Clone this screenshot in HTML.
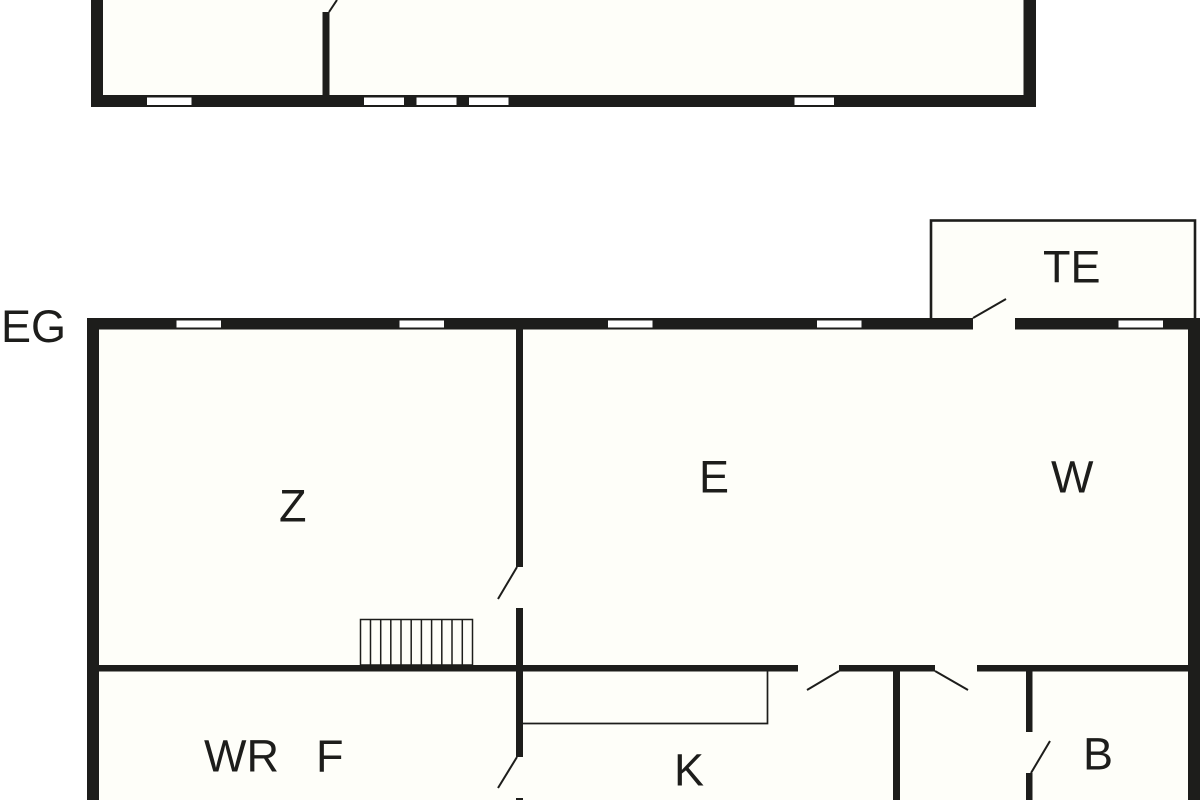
<!DOCTYPE html>
<html lang="de">
<head>
<meta charset="utf-8">
<title>Floor plan</title>
<style>
html,body{margin:0;padding:0;background:#fff;width:1200px;height:800px;overflow:hidden}
svg{display:block}
text{font-family:"Liberation Sans",sans-serif;font-size:45px;fill:#1d1d1b}
</style>
</head>
<body>
<svg width="1200" height="800" viewBox="0 0 1200 800" xmlns="http://www.w3.org/2000/svg">
<rect width="1200" height="800" fill="#fff"/>

<!-- Upper floor -->
<rect x="103" y="0" width="921" height="95" fill="#fefef9"/>
<g fill="#1d1d1b">
<rect x="91" y="0" width="12" height="107"/>
<rect x="1023.5" y="0" width="12.5" height="107"/>
<rect x="91" y="95" width="945" height="12"/>
<rect x="322.5" y="12" width="7" height="85"/>
</g>
<line x1="329" y1="12" x2="337" y2="0" stroke="#1d1d1b" stroke-width="2"/>
<g fill="#fff">
<rect x="147" y="97.5" width="44.5" height="7.5"/>
<rect x="364" y="97.5" width="40" height="7.5"/>
<rect x="416.5" y="97.5" width="40" height="7.5"/>
<rect x="469" y="97.5" width="39.5" height="7.5"/>
<rect x="794.5" y="97.5" width="39.5" height="7.5"/>
</g>

<!-- Terrace -->
<rect x="931" y="220.5" width="264" height="100" fill="#fefef9" stroke="#1d1d1b" stroke-width="2.6"/>

<!-- Ground floor fill -->
<rect x="99" y="329" width="1090" height="471" fill="#fefef9"/>

<!-- Walls -->
<g fill="#1d1d1b">
<rect x="87" y="318" width="1113" height="11.5"/>
<rect x="87" y="318" width="12" height="482"/>
<rect x="1188" y="329" width="12" height="471"/>
<rect x="516" y="329" width="7" height="238"/>
<rect x="516" y="608" width="7" height="149"/>
<rect x="516" y="798" width="7" height="2"/>
<rect x="99" y="665" width="699" height="6.5"/>
<rect x="839" y="665" width="96" height="6.5"/>
<rect x="977" y="665" width="211" height="6.5"/>
<rect x="893" y="671" width="7" height="129"/>
<rect x="1026" y="671" width="6.5" height="61"/>
<rect x="1026" y="773" width="6.5" height="27"/>
</g>

<!-- Door gap and windows in top wall -->
<rect x="973" y="318" width="42" height="11.5" fill="#fefef9"/>
<g fill="#fff">
<rect x="176.5" y="320.5" width="44.5" height="7"/>
<rect x="399.5" y="320.5" width="44.5" height="7"/>
<rect x="608" y="320.5" width="44.5" height="7"/>
<rect x="817" y="320.5" width="44.5" height="7"/>
<rect x="1118.5" y="320.5" width="44.5" height="7"/>
</g>

<!-- Door leaves -->
<g stroke="#1d1d1b" stroke-width="2" fill="none">
<line x1="973" y1="318" x2="1006" y2="299"/>
<line x1="517" y1="567" x2="498" y2="599"/>
<line x1="517" y1="757" x2="498" y2="788"/>
<line x1="839" y1="671" x2="807" y2="690"/>
<line x1="935" y1="671" x2="968" y2="690"/>
<line x1="1031" y1="773" x2="1050" y2="741"/>
</g>

<!-- Stairs -->
<g stroke="#1d1d1b" stroke-width="1.5" fill="none">
<rect x="360.5" y="619.5" width="112" height="45.5"/>
<line x1="370.5" y1="619.5" x2="370.5" y2="665"/>
<line x1="380.7" y1="619.5" x2="380.7" y2="665"/>
<line x1="390.8" y1="619.5" x2="390.8" y2="665"/>
<line x1="401" y1="619.5" x2="401" y2="665"/>
<line x1="411.2" y1="619.5" x2="411.2" y2="665"/>
<line x1="421.4" y1="619.5" x2="421.4" y2="665"/>
<line x1="431.6" y1="619.5" x2="431.6" y2="665"/>
<line x1="441.8" y1="619.5" x2="441.8" y2="665"/>
<line x1="452" y1="619.5" x2="452" y2="665"/>
<line x1="462.3" y1="619.5" x2="462.3" y2="665"/>
</g>

<!-- Counter in K -->
<polyline points="523,723.5 767.5,723.5 767.5,671" fill="none" stroke="#1d1d1b" stroke-width="1.7"/>

<!-- Labels -->
<text x="1043" y="282.500">TE</text>
<text x="699" y="492.500">E</text>
<text x="1051" y="492.500">W</text>
<text x="279" y="521.500">Z</text>
<text x="204" y="771.500">WR</text>
<text x="316" y="771.500">F</text>
<text x="674" y="785.500">K</text>
<text x="1083" y="769.500">B</text>
<text x="1" y="342">EG</text>
</svg>
</body>
</html>
